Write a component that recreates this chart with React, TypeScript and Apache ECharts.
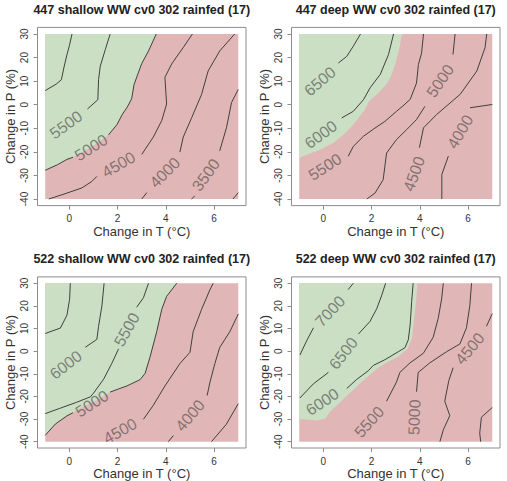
import { useEffect, useRef } from "react";
import * as echarts from "echarts";

type Pt = [number, number];
type Lab = [number, number, string, number]; // x, y, text, angle (deg)

const FONT = "'Liberation Sans', Arial, Helvetica, sans-serif";
const GREEN = "#cadfc4";
const RED = "#e1b6b6";
const LINE = "#404040";
const LABEL = "rgba(70,70,70,0.62)";
const FRAME = "#8c8c8c";

const X_TICKS = [0, 2, 4, 6];
const Y_TICKS = [-40, -30, -20, -10, 0, 10, 20, 30];
const X_RANGE: Pt = [-1, 7];
const Y_RANGE: Pt = [-40, 30];
const X_LABEL = "Change in T (°C)";
const Y_LABEL = "Change in P (%)";

const titles = [
  "447 shallow WW cv0 302 rainfed (17)",
  "447 deep WW cv0 302 rainfed (17)",
  "522 shallow WW cv0 302 rainfed (17)",
  "522 deep WW cv0 302 rainfed (17)",
];

// ---- 447 shallow ----
const p1Boundary: Pt[] = [
  [3.6, 30], [3.28, 22.8], [3.0, 17.5], [2.82, 12.5], [2.68, 8.5], [2.58, 2.5], [2.4, -1],
  [2.2, -4], [1.97, -8.5], [1.62, -12.8], [1.25, -15.5], [0.85, -18.5], [0.4, -20.8],
  [0.15, -22.3], [-0.1, -23.2], [-0.5, -25.5], [-1, -27.8],
];
const p1Lines: Pt[][] = [
  [[0.11, 30], [0.0, 25], [-0.1, 21.2], [-0.22, 16], [-0.33, 10.6], [-0.55, 8.7], [-1, 6]],
  [[1.69, 30], [1.49, 23.4], [1.28, 16.3], [1.21, 10.6], [1.18, 2.1], [0.75, -1.8]],
  [[-1, -27.8], [-0.5, -25.5], [-0.1, -23.2], [0.15, -22.3]],
  [[1.62, -12.8], [1.97, -8.5], [2.2, -4], [2.4, -1], [2.58, 2.5], [2.68, 8.5], [2.82, 12.5], [3.0, 17.5], [3.28, 22.8], [3.6, 30]],
  [[-0.85, -40], [-0.1, -37.5], [0.52, -35.3], [0.94, -32.5], [1.14, -30.4]],
  [[3.0, -21.1], [3.48, -13.7], [3.83, -6.7], [4.03, 0.3], [3.96, 11.6], [4.24, 17.3], [4.72, 24.3], [5.1, 30]],
  [[3.0, -40], [3.21, -37.3]],
  [[4.58, -20.1], [4.72, -13.7], [5.07, -5.5], [5.48, 4.4], [5.75, 14.3], [6.23, 22.8], [6.85, 30]],
  [[5.06, -40], [5.2, -38.7]],
  [[6.23, -19.6], [6.51, -9.8], [6.72, 0.9], [7.0, 6.5]],
  [[6.78, -40], [7.0, -37.3]],
];
const p1Labels: Lab[] = [
  [-0.14, -8.5, "5500", 36],
  [0.9, -18.2, "5000", 32],
  [2.04, -25.4, "4500", 30],
  [3.96, -28.8, "4000", 45],
  [5.66, -29.8, "3500", 54],
];

// ---- 447 deep ----
const p2Boundary: Pt[] = [
  [3.26, 30], [3.15, 24], [2.98, 17.1], [2.8, 12], [2.6, 8.5], [2.22, 4.4], [1.9, 1.5],
  [1.72, -2.1], [1.24, -8.5], [0.83, -12.7], [0.41, -16.2], [-0.14, -19.1], [-0.69, -21.2], [-1, -22.6],
];
const p2Lines: Pt[][] = [
  [[1.54, 30], [1.24, 24.8], [0.97, 20.5], [0.62, 17.7]],
  [[2.91, 30], [2.7, 21.3], [2.36, 12.9], [1.94, 7.2], [1.66, 2.1], [1.24, -2.8], [0.76, -5.6]],
  [[4.15, 30], [4.07, 21.9], [3.94, 17.1], [3.86, 9.2], [3.6, 2.3], [3.3, -0.5], [3.03, -2.8], [2.55, -7.1], [2.14, -9.9], [1.66, -13.4], [1.24, -17.7], [1.03, -21.9]],
  [[5.46, 30], [5.37, 21.3]],
  [[4.21, -0.7], [3.86, -6.3], [3.45, -10.6], [3.03, -14.8], [2.62, -20.5], [2.55, -26.1], [2.48, -31.8], [2.14, -37.5], [1.8, -40]],
  [[6.77, 30], [6.7, 24.2], [6.36, 14.3], [5.67, 4.4], [4.7, -4.1], [4.15, -9.8], [3.98, -18.2]],
  [[7.0, 0.1], [6.08, -1.3]],
  [[5.18, -21.8], [4.91, -29.6], [4.91, -40]],
];
const p2Labels: Lab[] = [
  [-0.14, 9.9, "6500", 40],
  [-0.1, -12.7, "6000", 36],
  [0.07, -26.4, "5500", 33],
  [4.84, 10.1, "5000", 56],
  [3.76, -29.3, "4500", 70],
  [5.67, -11.5, "4000", 60],
];

// ---- 522 shallow ----
const p3Boundary: Pt[] = [
  [4.45, 30], [4.03, 24.2], [3.83, 18.5], [3.62, 8.6], [3.34, -2.7], [3.14, -9.8], [2.93, -12.6],
  [2.38, -15.4], [2.04, -16.7], [1.69, -18.1], [1.28, -20.9], [0.87, -23], [0.45, -25.2],
  [0.15, -27.2], [-0.1, -28.6], [-0.58, -32.2], [-1, -37.2],
];
const p3Lines: Pt[][] = [
  [[0.04, 30], [0.01, 22.9], [-0.1, 15.9], [-0.37, 10.2], [-1, 7.8]],
  [[1.44, 30], [1.35, 20.1], [1.21, 10.9], [1.14, 5.2], [0.66, 1.7]],
  [[3.28, 30], [3.07, 23.6], [2.79, 19.4]],
  [[2.04, 1], [1.76, -5.4], [1.42, -12.4], [1.0, -18.6], [0.87, -20.2], [0.3, -22.6], [-0.4, -25.3], [-1, -27.6]],
  [[-1, -37.2], [-0.58, -32.2], [-0.1, -28.6], [0.15, -27.2]],
  [[1.69, -18.1], [2.04, -16.7], [2.38, -15.4], [2.93, -12.6], [3.14, -9.8], [3.34, -2.7], [3.62, 8.6], [3.83, 18.5], [4.03, 24.2], [4.45, 30]],
  [[3.07, -30.1], [3.48, -23.9], [3.96, -15.4], [4.58, -5.5], [5.0, -0.5], [5.13, 8.6], [5.48, 18.5], [5.82, 27], [5.96, 30]],
  [[7.0, 16.4], [6.65, 8.6], [6.23, 1.6], [6.03, -5.5], [5.82, -14], [5.71, -19.6]],
  [[4.31, -37.3], [4.1, -40]],
  [[7.0, -23.2], [6.5, -32.4], [5.89, -40]],
];
const p3Labels: Lab[] = [
  [-0.14, -6.1, "6000", 38],
  [2.38, 9.5, "5500", 61],
  [0.94, -23.2, "5000", 33],
  [2.1, -35.3, "4500", 29],
  [5.0, -28.4, "4000", 50],
];

// ---- 522 deep ----
const p4Boundary: Pt[] = [
  [3.9, 30], [3.84, 22], [3.76, 14], [3.68, 6], [3.5, 1.2], [3.1, -2.5], [2.62, -5], [2.21, -7.8],
  [1.86, -11.2], [1.52, -14.3], [1.1, -18.5], [0.69, -22.6], [0.28, -26.8], [0.07, -29.9],
  [-0.28, -30.6], [-1, -29.9],
];
const p4Lines: Pt[][] = [
  [[1.24, 30], [1.03, 27.2]],
  [[-0.41, 10.3], [-0.69, 4.6], [-0.97, -1.7]],
  [[2.58, 30], [2.41, 24.4], [2.21, 18.7], [1.93, 13.1], [1.45, 7.5]],
  [[0.21, -9.4], [-0.41, -14.4], [-0.97, -20.7]],
  [[3.72, 30], [3.66, 22], [3.6, 12], [3.52, 5], [3.38, 1.5], [3.1, -0.3], [2.55, -3.8], [2.07, -6.3], [1.86, -8.7], [1.38, -12.5], [0.97, -16.5]],
  [[2.62, -22.1], [3.03, -13.7], [3.17, -9.4], [3.59, -5.2], [4.14, -1], [4.55, 6.1], [4.76, 14.5], [4.9, 23], [4.97, 30]],
  [[3.86, -17.9], [3.93, -9.4], [4.41, -5.2], [5.1, -0.3], [5.66, 3.2], [5.93, 10.3], [6.07, 20.1], [6.14, 30]],
  [[7.0, 16.6], [6.76, 11]],
  [[5.38, -7.3], [5.2, -13], [5.03, -22.1], [5.24, -28.5], [4.97, -34.8], [4.83, -40]],
  [[7.0, -24.9], [6.55, -29.2], [6.48, -36.2], [6.52, -40]],
];
const p4Labels: Lab[] = [
  [0.28, 17.6, "7000", 47],
  [0.83, -1, "6500", 52],
  [-0.04, -22.4, "6000", 33],
  [1.9, -31.3, "5500", 48],
  [3.77, -29.2, "5000", 88],
  [6.07, 1.1, "4500", 50],
];

const boundaries = [p1Boundary, p2Boundary, p3Boundary, p4Boundary];
const lines = [p1Lines, p2Lines, p3Lines, p4Lines];
const labels = [p1Labels, p2Labels, p3Labels, p4Labels];

// panel frames (px)
const COL_LEFT = [37.5, 291.5];
const ROW_TOP = [27.4, 276.9];
const FRAME_W = 208.5;
const FRAME_H = 178.2;
// frame extends 4% beyond the data range, as in base graphics
const X_PAD = (X_RANGE[1] - X_RANGE[0]) * 0.04;
const Y_PAD = (Y_RANGE[1] - Y_RANGE[0]) * 0.04;

function buildOption() {
  const grid: any[] = [];
  const xAxis: any[] = [];
  const yAxis: any[] = [];
  const series: any[] = [];
  const graphic: any[] = [];

  for (let i = 0; i < 4; i++) {
    const left = COL_LEFT[i % 2];
    const top = ROW_TOP[Math.floor(i / 2)];
    grid.push({
      left, top, width: FRAME_W, height: FRAME_H,
      show: true, borderColor: FRAME, borderWidth: 1, backgroundColor: "transparent",
      containLabel: false,
    });
    xAxis.push({
      gridIndex: i, type: "value",
      min: X_RANGE[0] - X_PAD, max: X_RANGE[1] + X_PAD,
      axisLine: { show: false, onZero: false },
      splitLine: { show: false },
      axisTick: { show: true, inside: false, length: 4, customValues: X_TICKS, lineStyle: { color: FRAME, width: 1 } },
      axisLabel: { customValues: X_TICKS, margin: 8, fontSize: 10, color: "#333", fontFamily: FONT },
      name: X_LABEL, nameLocation: "middle", nameGap: 19,
      nameTextStyle: { fontSize: 13, color: "#333", fontFamily: FONT },
    });
    yAxis.push({
      gridIndex: i, type: "value",
      min: Y_RANGE[0] - Y_PAD, max: Y_RANGE[1] + Y_PAD,
      axisLine: { show: false, onZero: false },
      splitLine: { show: false },
      axisTick: { show: true, inside: false, length: 4, customValues: Y_TICKS, lineStyle: { color: FRAME, width: 1 } },
      axisLabel: { customValues: Y_TICKS, rotate: 90, margin: 8, fontSize: 10, color: "#333", fontFamily: FONT },
      name: Y_LABEL, nameLocation: "middle", nameGap: 21,
      nameTextStyle: { fontSize: 13, color: "#333", fontFamily: FONT },
    });

    const boundary = boundaries[i];
    series.push({
      type: "custom", xAxisIndex: i, yAxisIndex: i, silent: true, clip: false, z: 1,
      data: [[X_RANGE[0], Y_RANGE[1]]],
      renderItem: (_p: any, api: any) => {
        const a = api.coord([X_RANGE[0], Y_RANGE[1]]);
        const b = api.coord([X_RANGE[1], Y_RANGE[0]]);
        const poly = [[X_RANGE[0], Y_RANGE[1]] as Pt, ...boundary].map((p) => api.coord(p));
        return {
          type: "group",
          children: [
            { type: "rect", shape: { x: a[0], y: a[1], width: b[0] - a[0], height: b[1] - a[1] }, style: { fill: RED } },
            { type: "polygon", shape: { points: poly }, style: { fill: GREEN } },
          ],
        };
      },
    });

    lines[i].forEach((seg) => {
      series.push({
        type: "line", xAxisIndex: i, yAxisIndex: i, silent: true, z: 2,
        data: seg, symbol: "none", showSymbol: false,
        lineStyle: { color: LINE, width: 1 },
      });
    });

    const labs = labels[i];
    series.push({
      type: "custom", xAxisIndex: i, yAxisIndex: i, silent: true, clip: false, z: 3,
      data: labs.map((l) => [l[0], l[1]]),
      renderItem: (params: any, api: any) => {
        const l = labs[params.dataIndex];
        const p = api.coord([l[0], l[1]]);
        return {
          type: "text", x: p[0], y: p[1], rotation: (l[3] * Math.PI) / 180,
          style: {
            text: l[2], fill: LABEL, fontSize: 16, fontFamily: FONT,
            align: "center", verticalAlign: "middle",
          },
        };
      },
    });

    graphic.push({
      type: "text", x: left + FRAME_W / 2, y: top - 17.5,
      style: {
        text: titles[i], fill: "#222", fontSize: 12.5, fontWeight: "bold", fontFamily: FONT,
        align: "center", verticalAlign: "middle",
      },
    });
  }

  return { animation: false, backgroundColor: "#ffffff", grid, xAxis, yAxis, series, graphic };
}

export default function App() {
  const ref = useRef<HTMLDivElement>(null);
  useEffect(() => {
    if (!ref.current) return;
    const chart = echarts.init(ref.current, undefined, { renderer: "svg" });
    chart.setOption(buildOption() as any);
    return () => chart.dispose();
  }, []);
  return (
    <div
      ref={ref}
      style={{ position: "absolute", left: 0, top: 0, width: 507, height: 481, background: "#fff" }}
    />
  );
}
